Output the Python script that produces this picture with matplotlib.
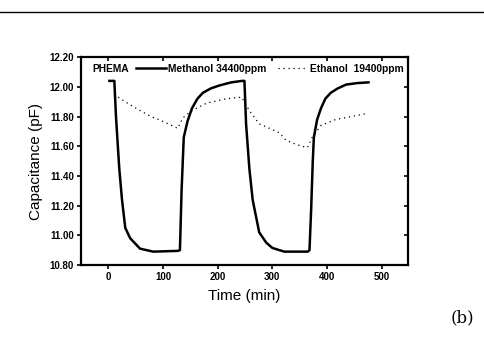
import matplotlib
matplotlib.use("Agg")
import matplotlib.pyplot as plt
from matplotlib.lines import Line2D

# methanol 34400 ppm (solid)
t_meoh = [2, 11, 14, 20, 25, 31, 40, 58, 82, 127, 131, 134, 138, 145, 153, 163, 173, 188, 204, 225, 245, 249,
          252, 258, 264, 276, 289, 300, 313, 322, 365, 368, 371, 374, 376, 382, 389, 397, 407, 420, 435, 455, 476]
c_meoh = [12.04, 12.04, 11.80, 11.45, 11.24, 11.05, 10.98, 10.91, 10.89, 10.895, 10.90, 11.30, 11.66, 11.77, 11.855,
          11.92, 11.96, 11.99, 12.01, 12.03, 12.04, 12.04, 11.75, 11.45, 11.24, 11.02, 10.95, 10.915, 10.90, 10.89,
          10.89, 10.90, 11.17, 11.50, 11.66, 11.78, 11.855, 11.92, 11.96, 11.99, 12.015, 12.025, 12.03]

# ethanol 19400 ppm (dotted)
t_etoh = [18, 35, 58, 78, 95, 110, 127, 136, 153, 180, 216, 244, 258, 276, 289, 313, 325, 345, 364, 373, 389,
          416, 445, 473]
c_etoh = [11.93, 11.89, 11.84, 11.80, 11.775, 11.75, 11.72, 11.79, 11.84, 11.89, 11.92, 11.93, 11.84, 11.75,
          11.73, 11.69, 11.64, 11.61, 11.59, 11.66, 11.74, 11.78, 11.80, 11.82]

x_ticks = [0, 100, 200, 300, 400, 500]
y_ticks = [10.80, 11.00, 11.20, 11.40, 11.60, 11.80, 12.00, 12.20]

plt.rcParams['font.family'] = ['Liberation Sans', 'DejaVu Sans']

fig = plt.figure(figsize=(4.85, 3.38), dpi=100)
ax = fig.add_axes([0.167, 0.216, 0.674, 0.615])

ax.plot(t_meoh, c_meoh, color='black', lw=1.8, solid_joinstyle='round')
ax.plot(t_etoh, c_etoh, color='black', lw=0.9, ls=(0, (1, 3)))

ax.set_xlim(-50, 548)
ax.set_ylim(10.80, 12.20)
ax.set_xticks(x_ticks)
ax.set_yticks(y_ticks)
ax.set_yticklabels([f"{v:.2f}" for v in y_ticks], fontsize=7, fontweight='bold')
ax.set_xticklabels([str(v) for v in x_ticks], fontsize=7, fontweight='bold')
ax.tick_params(axis='both', direction='out', length=3, width=1.2, pad=2)
ax.tick_params(top=True, right=True, which='both')
for sp in ax.spines.values():
    sp.set_linewidth(1.6)

# top and right ticks point inward
for tl in ax.xaxis.get_ticklines()[1::2]:
    tl.set_marker(3)
for tl in ax.yaxis.get_ticklines()[1::2]:
    tl.set_marker(0)

ax.set_xlabel("Time (min)", fontsize=11, labelpad=5)
ax.set_ylabel("Capacitance (pF)", fontsize=11, labelpad=5)

# legend in one row at the top
ax.text(0.034, 0.945, "PHEMA", transform=ax.transAxes, fontsize=7.4, fontweight='bold', va='center')
handles = [Line2D([], [], color='black', lw=1.8),
           Line2D([], [], color='black', lw=0.9, ls=(0, (1, 3)))]
labels = ["Methanol 34400ppm", "Ethanol  19400ppm"]
leg = ax.legend(handles, labels, loc='center left', bbox_to_anchor=(0.168, 0.945), ncol=2, frameon=False,
                handlelength=2.9, handletextpad=0.25, columnspacing=1.1, borderaxespad=0, borderpad=0,
                prop={'size': 7.4, 'weight': 'bold'})

fig.add_artist(Line2D([0, 1], [0.964, 0.964], color='black', lw=1.0, transform=fig.transFigure))
fig.text(0.93, 0.035, "(b)", fontsize=12, family='DejaVu Serif', ha='left', va='bottom')

fig.savefig("out.png", dpi=100)
